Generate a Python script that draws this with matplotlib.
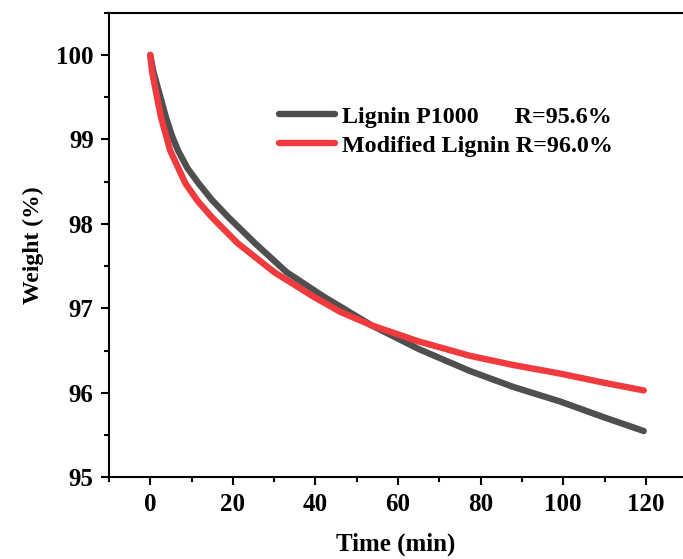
import matplotlib
matplotlib.use("Agg")
import matplotlib.pyplot as plt
from matplotlib.ticker import MultipleLocator

plt.rcParams['font.family'] = ['Liberation Serif', 'DejaVu Serif']
plt.rcParams['font.weight'] = 'bold'

# values
time_p1000 = [0, 0.7, 2.0, 3.8, 5.2, 6.7, 9, 11.7, 15, 18.9, 25.4, 33, 42,
              53.6, 65, 77.4, 88, 99.2, 110, 119.5]
weight_p1000 = [100, 99.81, 99.58, 99.26, 99.05, 98.87, 98.66, 98.48, 98.28,
                98.08, 97.77, 97.43, 97.14, 96.80, 96.52, 96.26, 96.07, 95.90,
                95.71, 95.55]

time_mod = [0, 0.4, 1.3, 2.6, 4.8, 8.5, 11.5, 14.9, 21.2, 30, 39.5, 46, 53.6,
            65, 77.4, 88, 99.2, 110, 119.5]
weight_mod = [100, 99.81, 99.58, 99.26, 98.87, 98.48, 98.27, 98.08, 97.77,
              97.43, 97.14, 96.96, 96.80, 96.61, 96.44, 96.33, 96.23, 96.12,
              96.03]

labels = ["Lignin P1000      R=95.6%", "Modified Lignin R=96.0%"]

fig = plt.figure(figsize=(6.83, 5.59), dpi=100)
ax = fig.add_axes([0.1596, 0.1458, 0.8404, 0.8315])

ax.plot(time_p1000, weight_p1000, color='#4f4f4f', lw=4.6,
        solid_capstyle='round', solid_joinstyle='round', label=labels[0])
ax.plot(time_mod, weight_mod, color='#f03a3e', lw=4.6,
        solid_capstyle='round', solid_joinstyle='round', label=labels[1])

ax.set_xlim(-10, 129)
ax.set_ylim(95, 100.5)
ax.xaxis.set_major_locator(MultipleLocator(20))
ax.xaxis.set_minor_locator(MultipleLocator(10))
ax.yaxis.set_major_locator(MultipleLocator(1))
ax.yaxis.set_minor_locator(MultipleLocator(0.5))

ax.spines['right'].set_visible(False)
for s in ['left', 'bottom', 'top']:
    ax.spines[s].set_linewidth(1.5)

ax.tick_params(which='major', direction='out', length=6, width=1.5,
               labelsize=18, pad=5)
ax.tick_params(which='minor', direction='out', length=3.5, width=1.5)
ax.tick_params(top=False, right=False, which='both')

ax.set_xlabel("Time (min)", fontsize=18, fontweight='bold', labelpad=12)
ax.set_ylabel("Weight (%)", fontsize=17, fontweight='bold', labelpad=9)

leg = ax.legend(loc='upper left', bbox_to_anchor=(0.28, 0.82), frameon=False,
                fontsize=17.3, handlelength=2.3, handletextpad=0.3,
                labelspacing=0.3, borderaxespad=0)
for t in leg.get_texts():
    t.set_fontweight('bold')

fig.savefig("out.png", dpi=100)
